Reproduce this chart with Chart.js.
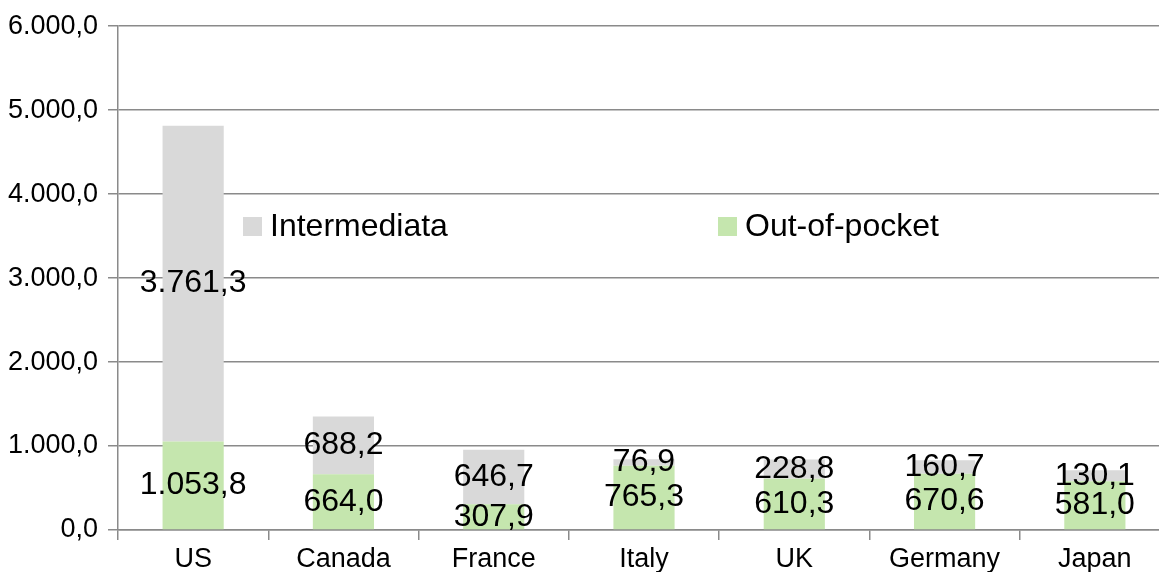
<!DOCTYPE html>
<html>
<head>
<meta charset="utf-8">
<script src="https://cdn.jsdelivr.net/npm/chart.js@4/dist/chart.umd.min.js"></script>
<style>
  html, body { margin: 0; padding: 0; background: #fff; overflow: hidden; }
  #wrap { width: 1170px; height: 600px; }
</style>
</head>
<body>
<div id="wrap"><canvas id="costChart" width="1170" height="600"></canvas></div>
<script>
const countries = ["US", "Canada", "France", "Italy", "UK", "Germany", "Japan"];
const outOfPocket = [1053.8, 664.0, 307.9, 765.3, 610.3, 670.6, 581.0];
const intermediata = [3761.3, 688.2, 646.7, 76.9, 228.8, 160.7, 130.1];
const yTicks = [0, 1000, 2000, 3000, 4000, 5000, 6000];

const FONT = '"Liberation Sans", Arial, Helvetica, sans-serif';
const GRID = "#8a8a8a";

// 1053.8 -> "1.053,8"
function fmt(v) {
  const parts = v.toFixed(1).split(".");
  return parts[0].replace(/\B(?=(\d{3})+(?!\d))/g, ".") + "," + parts[1];
}

const valueLabels = {
  id: "valueLabels",
  afterDatasetsDraw(chart) {
    const ctx = chart.ctx;
    ctx.save();
    ctx.font = "32px " + FONT;
    ctx.fillStyle = "#000";
    ctx.textAlign = "center";
    ctx.textBaseline = "middle";
    chart.data.datasets.forEach((ds, i) => {
      chart.getDatasetMeta(i).data.forEach((bar, j) => {
        ctx.fillText(fmt(ds.data[j]), bar.x, (bar.y + bar.base) / 2);
      });
    });
    ctx.restore();
  },
};

// legend sits inside the plot, one row, reversed order
const innerLegend = {
  id: "innerLegend",
  afterDraw(chart) {
    const ctx = chart.ctx;
    const items = chart.data.datasets.slice().reverse();
    ctx.save();
    ctx.font = "32px " + FONT;
    ctx.textBaseline = "middle";
    ctx.textAlign = "left";
    items.forEach((ds, k) => {
      const x = 243 + k * 475;
      const y = 226;
      ctx.fillStyle = ds.backgroundColor;
      ctx.fillRect(x, y - 9, 19, 19);
      ctx.fillStyle = "#000";
      ctx.fillText(ds.label, x + 27, y + 1);
    });
    ctx.restore();
  },
};

new Chart(document.getElementById("costChart"), {
  type: "bar",
  data: {
    labels: countries,
    datasets: [
      { label: "Out-of-pocket", data: outOfPocket, backgroundColor: "#c5e6ae" },
      { label: "Intermediata", data: intermediata, backgroundColor: "#d9d9d9" },
    ],
  },
  options: {
    responsive: false,
    animation: false,
    layout: { padding: { top: 25, right: 0, left: 0, bottom: 0 } },
    datasets: { bar: { categoryPercentage: 1, barPercentage: 0.407 } },
    plugins: { legend: { display: false }, tooltip: { enabled: false } },
    scales: {
      x: {
        stacked: true,
        afterFit: (s) => { s.height = 70; },
        grid: { drawOnChartArea: false, drawTicks: true, tickLength: 10, color: GRID, lineWidth: 1.5 },
        border: { display: true, color: GRID, width: 1.5 },
        ticks: { color: "#000", font: { family: FONT, size: 27 }, padding: 3 },
      },
      y: {
        stacked: true,
        min: 0,
        max: 6000,
        afterFit: (s) => { s.width = 118; },
        afterBuildTicks: (s) => { s.ticks = yTicks.map((v) => ({ value: v })); },
        grid: { color: GRID, lineWidth: 1.5, tickLength: 10 },
        border: { display: true, color: GRID, width: 1.5 },
        ticks: { color: "#000", font: { family: FONT, size: 27 }, padding: 10, callback: (v) => fmt(v) },
      },
    },
  },
  plugins: [valueLabels, innerLegend],
});
</script>
</body>
</html>
